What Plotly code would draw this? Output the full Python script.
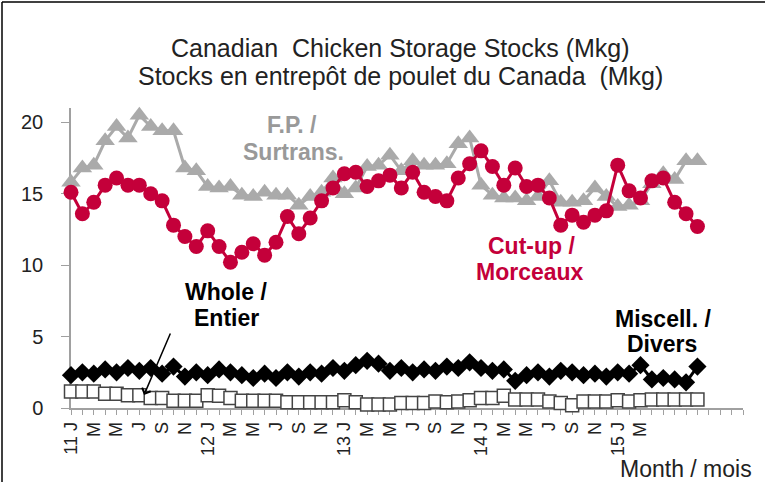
import plotly.graph_objects as go

# Monthly categories Jan 2011 .. Dec 2015 (labels every 2nd month, up to Mar 2015)
tick_labels = ["11 J", "M", "M", "J", "S", "N",
               "12 J", "M", "M", "J", "S", "N",
               "13 J", "M", "M", "J", "S", "N",
               "14 J", "M", "M", "J", "S", "N",
               "15 J", "M"]
n_categories = 60

fp_surtrans = [15.8, 16.8, 17.0, 18.7, 19.7, 18.9, 20.5, 19.7, 19.4, 19.4,
               16.8, 16.6, 15.5, 15.4, 15.5, 14.9, 14.8, 15.1, 14.9, 14.9,
               14.2, 14.8, 15.1, 16.1, 15.0, 15.4, 16.9, 17.0, 17.7, 16.6,
               17.3, 17.0, 17.0, 17.1, 18.5, 18.9, 15.6, 14.9, 14.7, 14.7,
               14.5, 14.8, 15.9, 14.4, 14.4, 14.5, 15.4, 14.8, 14.1, 14.2,
               14.5, 15.7, 16.4, 16.0, 17.3, 17.3]

cut_up = [15.1, 13.6, 14.4, 15.6, 16.1, 15.6, 15.6, 15.0, 14.5, 12.8,
          12.0, 11.3, 12.4, 11.3, 10.2, 10.9, 11.5, 10.7, 11.6, 13.4,
          12.2, 13.3, 14.5, 15.4, 16.4, 16.5, 15.5, 15.9, 16.3, 15.4,
          16.5, 15.1, 14.8, 14.5, 16.1, 17.1, 18.0, 16.9, 15.6, 16.8,
          15.5, 15.6, 14.7, 12.8, 13.5, 13.0, 13.5, 13.8, 17.0, 15.2,
          14.7, 15.9, 16.1, 14.4, 13.6, 12.7]

miscell = [2.3, 2.5, 2.4, 2.7, 2.5, 2.8, 2.6, 2.8, 2.4, 2.9,
           2.2, 2.5, 2.3, 2.7, 2.5, 2.3, 2.1, 2.4, 2.1, 2.5,
           2.2, 2.5, 2.4, 2.8, 2.6, 3.0, 3.3, 3.1, 2.6, 2.8,
           2.5, 2.7, 2.6, 2.9, 2.8, 3.2, 2.8, 2.6, 2.7, 1.9,
           2.3, 2.5, 2.2, 2.6, 2.5, 2.3, 2.4, 2.2, 2.5, 2.4,
           3.0, 2.0, 2.1, 2.0, 1.8, 2.9]

whole = [1.15, 1.15, 1.15, 1.0, 1.0, 0.9, 0.9, 0.7, 0.7, 0.5,
         0.5, 0.5, 0.9, 0.85, 0.7, 0.5, 0.5, 0.5, 0.5, 0.4,
         0.4, 0.4, 0.4, 0.4, 0.55, 0.4, 0.25, 0.25, 0.25, 0.35,
         0.35, 0.35, 0.45, 0.4, 0.45, 0.55, 0.7, 0.7, 0.85, 0.6,
         0.6, 0.6, 0.45, 0.35, 0.2, 0.45, 0.45, 0.45, 0.55, 0.45,
         0.55, 0.6, 0.6, 0.6, 0.6, 0.6]

RED = "#C4003A"
GRAY = "#AAAAAA"

x = list(range(len(cut_up)))

fig = go.Figure()
fig.add_trace(go.Scatter(x=x, y=fp_surtrans, mode="lines+markers", cliponaxis=False,
                         line=dict(color=GRAY, width=3),
                         marker=dict(symbol="triangle-up", size=17, color=GRAY)))
fig.add_trace(go.Scatter(x=x, y=cut_up, mode="lines+markers", cliponaxis=False,
                         line=dict(color=RED, width=3),
                         marker=dict(symbol="circle", size=15, color=RED)))
fig.add_trace(go.Scatter(x=x, y=miscell, mode="lines+markers", cliponaxis=False,
                         line=dict(color="black", width=3),
                         marker=dict(symbol="diamond", size=14, color="black")))
fig.add_trace(go.Scatter(x=x, y=whole, mode="lines+markers", cliponaxis=False,
                         line=dict(color="#555555", width=2),
                         marker=dict(symbol="square", size=13, color="white",
                                     line=dict(color="#444444", width=1.5))))

ticktext = []
for i in range(n_categories):
    if i % 2 == 0 and i // 2 < len(tick_labels):
        ticktext.append(tick_labels[i // 2])
    else:
        ticktext.append("")

L, R, T, B = 71, 22, 108, 74
W, H = 765, 482
PW, PH = W - L - R, H - T - B


def px(xp):
    return (xp - L) / PW


def py(yp):
    return (H - B - yp) / PH


FONT = "Liberation Sans, Arial, sans-serif"

annotations = [
    dict(x=px(400), y=py(48), text="Canadian  Chicken Storage Stocks (Mkg)",
         font=dict(size=25, color="#222222")),
    dict(x=px(400), y=py(76), text="Stocks en entrepôt de poulet du Canada  (Mkg)",
         font=dict(size=25, color="#222222")),
    dict(x=px(292), y=py(125), text="<b>F.P. /</b>", font=dict(size=23, color="#999999")),
    dict(x=px(293), y=py(152), text="<b>Surtrans.</b>", font=dict(size=23, color="#999999")),
    dict(x=px(531), y=py(246), text="<b>Cut-up /</b>", font=dict(size=23, color=RED)),
    dict(x=px(530), y=py(272), text="<b>Morceaux</b>", font=dict(size=23, color=RED)),
    dict(x=px(226), y=py(292), text="<b>Whole /</b>", font=dict(size=23, color="black")),
    dict(x=px(226), y=py(318), text="<b>Entier</b>", font=dict(size=23, color="black")),
    dict(x=px(663), y=py(319), text="<b>Miscell. /</b>", font=dict(size=23, color="black")),
    dict(x=px(662), y=py(344), text="<b>Divers</b>", font=dict(size=23, color="black")),
    dict(x=px(686), y=py(469), text="Month / mois", font=dict(size=23, color="#222222")),
]
for a in annotations:
    a.update(xref="paper", yref="paper", showarrow=False, xanchor="center", yanchor="middle")

annotations.append(dict(xref="paper", yref="paper", axref="pixel", ayref="pixel",
                        x=px(144), y=py(395), ax=27, ay=-63, text="",
                        showarrow=True, arrowhead=4, arrowsize=1.2, arrowwidth=1.5,
                        arrowcolor="black", standoff=0))

fig.update_layout(
    width=W, height=H,
    margin=dict(l=L, r=R, t=T, b=B, pad=0),
    paper_bgcolor="white", plot_bgcolor="white",
    showlegend=False,
    font=dict(family=FONT, color="#222222"),
    annotations=annotations,
    shapes=[
        dict(type="line", xref="paper", yref="paper",
             x0=px(2), x1=px(2), y0=py(482), y1=py(2),
             line=dict(color="black", width=1.5), layer="below"),
        dict(type="line", xref="paper", yref="paper",
             x0=px(2), x1=px(765), y0=py(2), y1=py(2),
             line=dict(color="black", width=1.5), layer="below"),
    ],
    xaxis=dict(range=[0, n_categories - 1], tickmode="array",
               tickvals=list(range(n_categories)), ticktext=ticktext,
               tickangle=-90, ticks="outside", ticklen=5, tickcolor="#A0A0A0",
               showline=True, linecolor="#A0A0A0", linewidth=1.5,
               showgrid=False, zeroline=False, layer="below traces",
               tickfont=dict(size=18, color="#222222")),
    yaxis=dict(range=[0, 21], tickvals=[0, 5, 10, 15, 20],
               ticks="outside", ticklen=8, tickcolor="#A0A0A0",
               ticklabelstandoff=14,
               showline=True, linecolor="#A0A0A0", linewidth=1.5,
               showgrid=False, zeroline=False, layer="below traces",
               tickfont=dict(size=20, color="#222222")),
)

fig.write_html("out.html", config={"displayModeBar": False},
               post_script="document.body.style.margin='0';")
